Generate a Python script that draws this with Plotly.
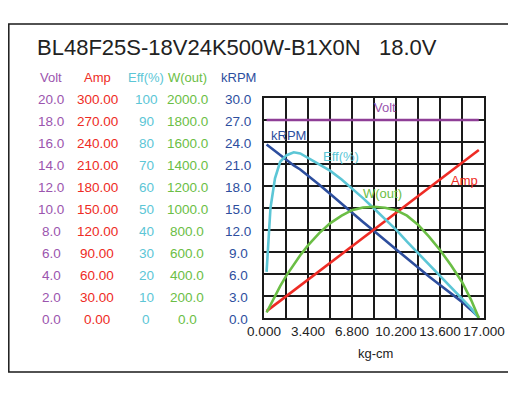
import plotly.graph_objects as go

# ---------------- data ----------------
torque = [0.2, 0.35, 0.5, 0.85, 1.25, 1.75, 2.3, 2.8, 3.4, 4.25, 5.1, 6.0, 6.8,
          7.65, 8.5, 9.35, 10.2, 11.05, 11.9, 12.75, 13.6, 14.45, 15.3, 16.0, 16.6]
volt = [18.0] * len(torque)
amp = [9.4, 11.4, 13.4, 18.1, 23.5, 30.1, 37.5, 44.2, 52.3, 63.7, 75.1, 87.1, 97.8,
       109.2, 120.6, 132.0, 143.4, 154.8, 166.2, 177.6, 189.0, 200.3, 211.7, 221.1, 229.1]
eff = [21, 38, 50, 63.5, 71, 74, 75.3, 74.8, 72.7, 70, 67, 63, 59,
       54.5, 49.8, 44.8, 40.2, 34.7, 29.5, 24.2, 18.8, 13.8, 8.8, 4.5, 0]
wout = [50, 85, 120, 200, 290, 390, 490, 570, 660, 770, 860, 930, 980,
        1005, 1012, 1003, 980, 930, 848, 740, 618, 480, 328, 165, 0]
krpm = [23.65, 23.45, 23.25, 22.75, 22.2, 21.5, 20.8, 20.25, 19.45, 18.2, 16.95, 15.55, 14.35,
        13.1, 11.85, 10.6, 9.35, 8.1, 6.82, 5.65, 4.5, 3.35, 2.2, 1.1, 0.1]

title_text = "BL48F25S-18V24K500W-B1X0N"
voltage_text = "18.0V"
x_title = "kg-cm"
x_ticks = [0.0, 3.4, 6.8, 10.2, 13.6, 17.0]
x_ticklabels = ["0.000", "3.400", "6.800", "10.200", "13.600", "17.000"]

col_headers = ["Volt", "Amp", "Eff(%)", "W(out)", "kRPM"]
volt_labels = ["0.0", "2.0", "4.0", "6.0", "8.0", "10.0", "12.0", "14.0", "16.0", "18.0", "20.0"]
amp_labels = ["0.00", "30.00", "60.00", "90.00", "120.00", "150.00", "180.00", "210.00", "240.00", "270.00", "300.00"]
eff_labels = ["0", "10", "20", "30", "40", "50", "60", "70", "80", "90", "100"]
w_labels = ["0.0", "200.0", "400.0", "600.0", "800.0", "1000.0", "1200.0", "1400.0", "1600.0", "1800.0", "2000.0"]
krpm_labels = ["0.0", "3.0", "6.0", "9.0", "12.0", "15.0", "18.0", "21.0", "24.0", "27.0", "30.0"]

# ---------------- style ----------------
C_VOLT = "#9B55AE"
C_VOLT_LINE = "#8E3E96"
C_AMP = "#EE2B24"
C_EFF = "#5CC6D6"
C_W = "#6BBE45"
C_KRPM = "#2D4E9E"
FONT = "Arial, Liberation Sans, sans-serif"

OFF = 8  # page body margin
W, H = 516 - OFF, 399 - OFF
L, R, T, B = 264, 484, 98, 318          # plot area in page pixels
PW, PH = R - L, B - T


def px(x):
    return (x - L) / PW


def py(y):
    return (B - y) / PH


fig = go.Figure()
series = [
    ("Volt", volt, C_VOLT_LINE, "y2"),
    ("Amp", amp, C_AMP, "y3"),
    ("Eff(%)", eff, C_EFF, "y4"),
    ("W(out)", wout, C_W, "y5"),
    ("kRPM", krpm, C_KRPM, "y"),
]
for name, vals, col, ax in series:
    fig.add_trace(go.Scatter(x=torque, y=vals, mode="lines", name=name,
                             line=dict(color=col, width=2.6), yaxis=ax,
                             showlegend=False, hoverinfo="skip"))

grid_vals = [i * 1.7 for i in range(11)]
grid_text = [x_ticklabels[i // 2] if i % 2 == 0 else "" for i in range(11)]

fig.update_layout(
    width=W, height=H,
    margin=dict(l=L - OFF, r=(516 - R), t=T - OFF, b=(399 - B), pad=0),
    paper_bgcolor="white", plot_bgcolor="white",
    font=dict(family=FONT, color="#222222"),
    xaxis=dict(range=[0, 17], tickvals=grid_vals, ticktext=grid_text,
               showgrid=True, gridcolor="#1a1a1a", gridwidth=1.6,
               showline=True, linecolor="#1a1a1a", linewidth=1.6, mirror=True,
               ticks="", zeroline=False, tickfont=dict(size=13.5, color="#222222"),
               fixedrange=True),
    yaxis=dict(range=[0, 30], dtick=3, showticklabels=False,
               showgrid=True, gridcolor="#1a1a1a", gridwidth=1.6,
               showline=True, linecolor="#1a1a1a", linewidth=1.6, mirror=True,
               ticks="", zeroline=False),
    yaxis2=dict(range=[0, 20], overlaying="y", visible=False),
    yaxis3=dict(range=[0, 300], overlaying="y", visible=False),
    yaxis4=dict(range=[0, 100], overlaying="y", visible=False),
    yaxis5=dict(range=[0, 2000], overlaying="y", visible=False),
)

ann = []
# title
ann.append(dict(text=title_text, x=px(35), y=py(47.5), xref="paper", yref="paper",
                xanchor="left", yanchor="middle", showarrow=False,
                font=dict(size=22, color="#222222", family=FONT)))
ann.append(dict(text=voltage_text, x=px(377), y=py(47.5), xref="paper", yref="paper",
                xanchor="left", yanchor="middle", showarrow=False,
                font=dict(size=22, color="#222222", family=FONT)))

# left columns
cols = [
    (51, C_VOLT, volt_labels),
    (97, C_AMP, amp_labels),
    (146, C_EFF, eff_labels),
    (187, C_W, w_labels),
    (238, C_KRPM, krpm_labels),
]
for (cx, col, labels), hdr in zip(cols, col_headers):
    ann.append(dict(text=hdr, x=px(cx), y=py(77), xref="paper", yref="paper",
                    xanchor="center", yanchor="middle", showarrow=False,
                    font=dict(size=13, color=col, family=FONT)))
    for i, lab in enumerate(labels):
        ann.append(dict(text=lab, x=px(cx), y=i / 10, xref="paper", yref="paper",
                        xanchor="center", yanchor="middle", showarrow=False, yshift=-1,
                        font=dict(size=13.5, color=col, family=FONT)))

# curve labels
curve_labels = [
    ("Volt", 385, 108, C_VOLT),
    ("kRPM", 288, 135, C_KRPM),
    ("Eff(%)", 341, 156, C_EFF),
    ("W(out)", 382, 193, C_W),
    ("Amp", 464, 180, C_AMP),
]
for t, x, y, c in curve_labels:
    ann.append(dict(text=t, x=px(x), y=py(y), xref="paper", yref="paper",
                    xanchor="center", yanchor="middle", showarrow=False,
                    font=dict(size=13, color=c, family=FONT)))

# x axis title
ann.append(dict(text=x_title, x=px(375), y=py(353), xref="paper", yref="paper",
                xanchor="center", yanchor="middle", showarrow=False,
                font=dict(size=13, color="#222222", family=FONT)))
fig.update_layout(annotations=ann)

# outer border (left edge clamped to the figure's own left edge)
fig.add_shape(type="rect", xref="paper", yref="paper",
              x0=px(OFF + 0.8), x1=px(513), y0=py(372), y1=py(24),
              line=dict(color="#1a1a1a", width=1.5), fillcolor="rgba(0,0,0,0)", layer="below")

fig.write_html("out.html")
